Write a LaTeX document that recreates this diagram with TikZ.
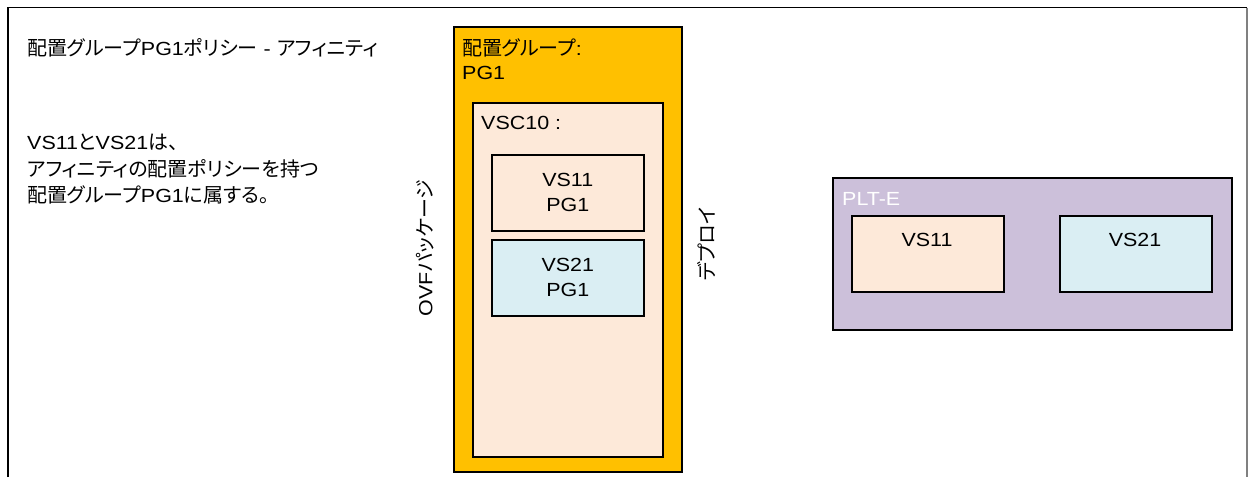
\documentclass[tikz,border=0pt]{standalone}
\usepackage{fontspec}
\setmainfont{Liberation Sans}[FakeStretch=1.13]
\newfontfamily\jpfont{Noto Sans CJK JP}[RawFeature=+palt]
\newcommand\J[1]{{\jpfont\fontsize{20}{25}\selectfont #1}}
\definecolor{pgorange}{HTML}{FFC000}
\definecolor{peach}{HTML}{FDE9D9}
\definecolor{lblue}{HTML}{DAEEF3}
\definecolor{lpurple}{HTML}{CCC0DA}
\begin{document}
\begin{tikzpicture}[x=1pt,y=-1pt,
  font=\fontsize{19}{25}\selectfont,
  box/.style={draw=black, line width=1.6pt, inner sep=0pt, anchor=north west, align=center},
  lbl/.style={inner sep=0pt, anchor=base west},
  ctext/.style={inner sep=0pt, anchor=center}]
\useasboundingbox (0,0) rectangle (1249,477);
% frame
\coordinate (fbl) at (8,477);
\coordinate (ftl) at (8,7.5);
\coordinate (ftr) at (1247,7.5);
\coordinate (fbr) at (1247,477);
\draw[line width=1.5pt] (fbl) -- (ftl) -- (ftr);
\draw[line width=1.5pt, gray] (ftr) -- (fbr);
% left texts
\node[lbl] (title) at (27,55) {\J{配置グループ}PG1\J{ポリシー} - \J{アフィニティ}};
\node[lbl] (desc1) at (27,149.5) {VS11\J{と}VS21\J{は、}};
\node[lbl] (desc2) at (27,176) {\J{アフィニティの配置ポリシーを持つ}};
\node[lbl] (desc3) at (27,202.5) {\J{配置グループ}PG1\J{に属する。}};
% package
\node[box, fill=pgorange, minimum width=228, minimum height=445] (pg) at (453,26) {};
\node[lbl] (pgl1) at (462,55) {\J{配置グループ}:};
\node[lbl] (pgl2) at (462,79) {PG1};
\node[box, fill=peach, minimum width=190, minimum height=354] (vsc) at (472,102) {};
\node[lbl] (vscl) at (481,129) {VSC10 :};
\node[box, fill=peach, minimum width=152, minimum height=76] (vs11p) at (491,154) {VS11\\PG1};
\node[box, fill=lblue, minimum width=152, minimum height=76] (vs21p) at (491,239) {VS21\\PG1};
\node[ctext, rotate=90] (ovf) at (425,248) {OVF\J{パッケージ}};
\node[ctext, rotate=90] (deploy) at (707,244) {\J{デプロイ}};
% platform
\node[box, fill=lpurple, minimum width=399, minimum height=152] (plt) at (832,177) {};
\node[lbl, text=white] (pltl) at (842,205) {PLT-E};
\node[box, fill=peach, minimum width=152, minimum height=76] (vs11) at (851,215) {};
\node[box, fill=lblue, minimum width=152, minimum height=76] (vs21) at (1059,215) {};
\node[ctext] (vs11l) at (927,240) {VS11};
\node[ctext] (vs21l) at (1135,240) {VS21};
\end{tikzpicture}
\end{document}
